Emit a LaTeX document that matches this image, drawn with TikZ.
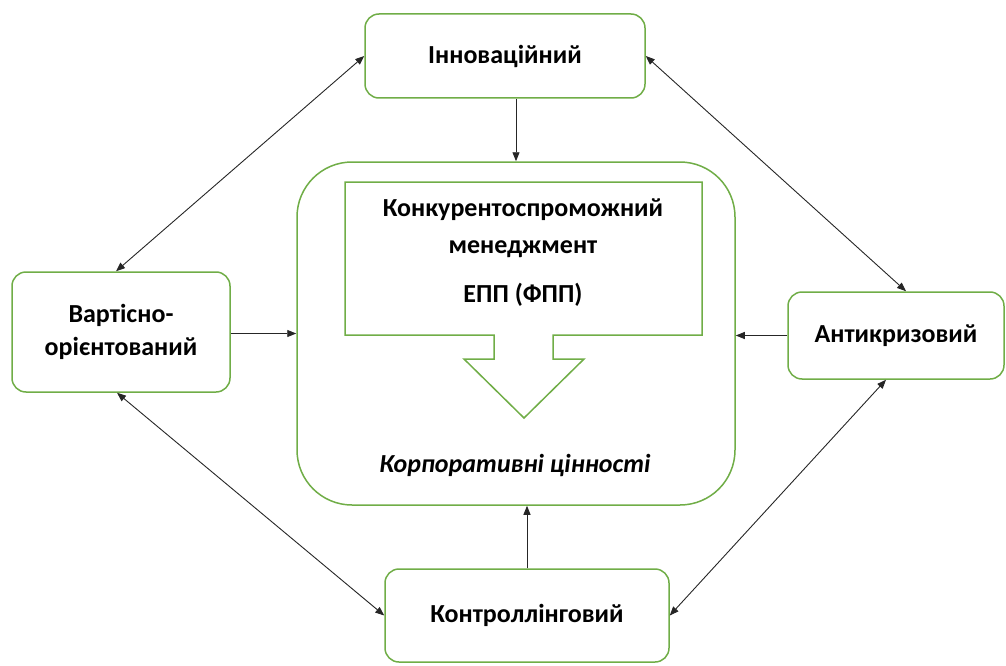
\documentclass[tikz,border=0pt]{standalone}
\usepackage{fontspec}
\setmainfont{Carlito}
\usetikzlibrary{arrows.meta}
\definecolor{box edge}{RGB}{112,173,71}
\colorlet{link line}{black!85}
\def\innerarrow{(345,182) -- (702,182) -- (702,335) -- (553,335) -- (553,359) -- (584,359) -- (524,418) -- (464,359) -- (494,359) -- (494,335) -- (345,335) -- cycle}
\tikzset{box/.style={draw=box edge, line width=1.5pt, rounded corners=14pt, align=center,
		font=\fontsize{26}{33}\selectfont\bfseries},
	link/.style={draw=link line, line width=0.9pt, -{Triangle[length=9pt,width=7pt]}},
	both/.style={link, {Triangle[length=9pt,width=7pt]}-{Triangle[length=9pt,width=7pt]}}}
\begin{document}
\begin{tikzpicture}[x=1pt,y=-1pt]
		\useasboundingbox (0,0) rectangle (1006,666);
		\node[box, minimum width=280pt, minimum height=84pt] (inn) at (505,56) {Інноваційний};
		\node[box, minimum width=218pt, minimum height=120pt] (vart) at (121,332) {Вартісно-\\орієнтований};
		\node[box, minimum width=216pt, minimum height=87pt] (anti) at (896,335.5) {Антикризовий};
		\node[box, minimum width=284pt, minimum height=93pt] (kontr) at (527,615.5) {Контроллінговий};
		\node[box, rounded corners=55pt, minimum width=438pt, minimum height=343pt] (core) at (516,333.5) {};
		\draw[draw=box edge, line width=1.5pt] \innerarrow;
		\node[align=center, font=\fontsize{26}{37}\selectfont\bfseries] (title) at (523,228) {Конкурентоспроможний\\менеджмент};
		\node[font=\fontsize{26}{30}\selectfont\bfseries] (epp) at (523,295) {ЕПП (ФПП)};
		\node[font=\fontsize{26}{30}\selectfont\bfseries\itshape] (cv) at (515,465) {Корпоративні цінності};
		
		\draw[link] (inn.south -| core.north) -- (core.north);
		\draw[link] (kontr.north) -- (kontr.north |- core.south);
		\draw[link] (vart.east |- core.west) -- (core.west);
		\draw[link] (anti.west) -- (anti.west -| core.east);
		\draw[both] (inn.west) -- ([xshift=-5pt]vart.north);
		\draw[both] (inn.east) -- ([xshift=10pt]anti.north);
		\draw[both] ([xshift=-4pt]vart.south) -- (kontr.west);
		\draw[both] ([xshift=-10pt]anti.south) -- (kontr.east);
		\end{tikzpicture}
\end{document}
